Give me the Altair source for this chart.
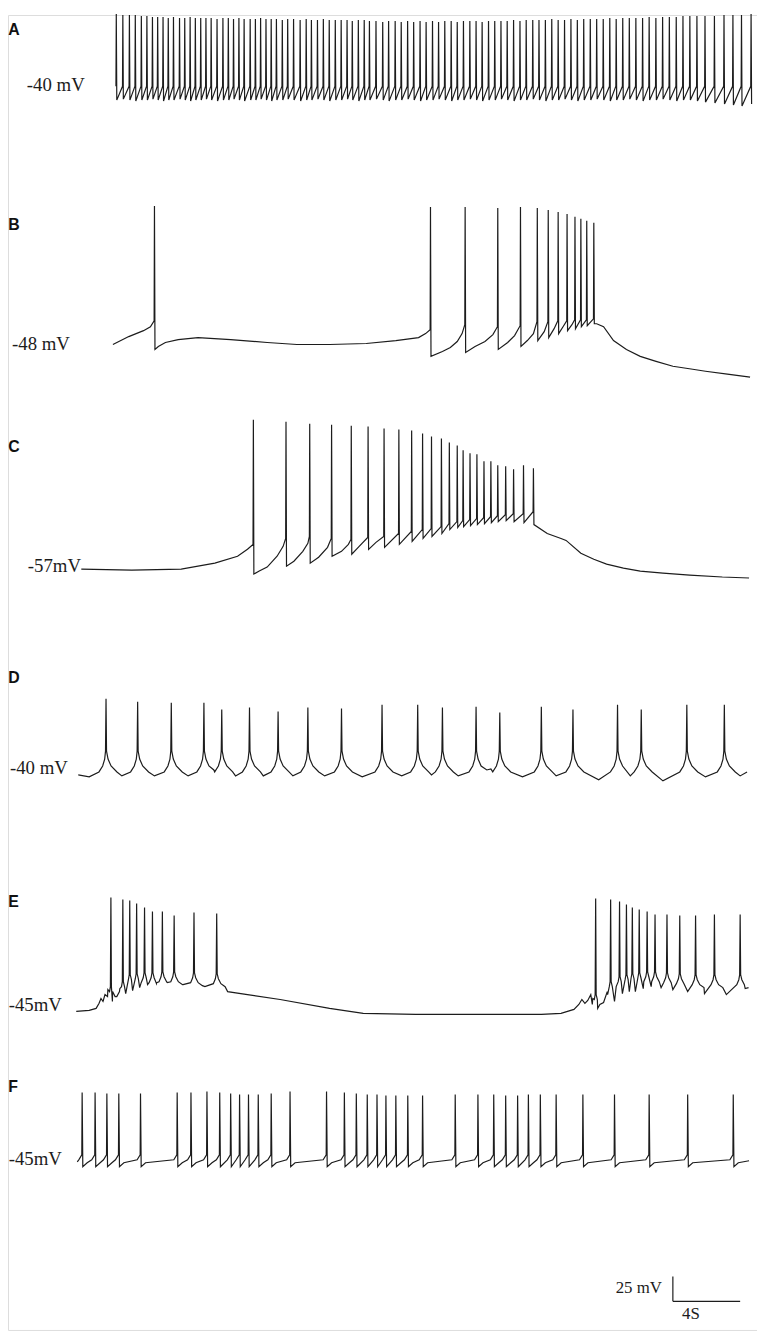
import altair as alt
import pandas as pd

# ---------------- data (time in s, voltage in mV) ----------------
# Panel A: tonic firing at -40 mV
A_spike_t = [2.32, 2.71, 3.10, 3.45, 3.81, 4.14, 4.47, 4.78, 5.10, 5.41, 5.72, 6.08, 6.39, 6.71, 7.02,
             7.34, 7.65, 7.96, 8.31, 8.66, 8.98, 9.29, 9.61, 9.92, 10.28, 10.59, 10.90, 11.22, 11.53,
             11.84, 12.19, 12.51, 12.86, 13.25, 13.61, 13.92, 14.28, 14.63, 14.98, 15.34, 15.69, 16.04,
             16.35, 16.71, 17.06, 17.37, 17.76, 18.16, 18.51, 18.90, 19.26, 19.64, 20.00, 20.38, 20.74,
             21.12, 21.48, 21.85, 22.23, 22.59, 22.96, 23.34, 23.71, 24.07, 24.45, 24.82, 25.19, 25.56,
             25.94, 26.32, 26.69, 27.08, 27.45, 27.83, 28.21, 28.59, 28.97, 29.35, 29.73, 30.11, 30.50,
             30.88, 31.27, 31.66, 32.04, 32.43, 32.82, 33.21, 33.61, 34.00, 34.40, 34.80, 35.20, 35.61,
             36.01, 36.42, 36.84, 37.32, 37.88, 38.45, 38.98, 39.49, 40.06]
A_peak = [34, 33, 33, 33, 32,
          32, 31, 31, 31, 30, 31, 30, 30, 31, 30, 30, 30, 30, 29, 30,
          30, 29, 30, 29, 29, 29, 30, 29, 29, 29, 28, 29, 29, 28, 29, 28, 28, 29, 28, 28,
          28, 28, 27, 28, 28, 27, 27, 26, 27, 27,
          26, 27, 26, 27, 26, 27, 26, 27, 27, 26, 27, 27, 27, 26, 27,
          27, 27, 27, 28, 27, 28, 28, 28, 28, 29, 28, 28, 29, 28, 29,
          29, 29, 29, 30, 29, 30, 30, 30, 30, 31, 30, 31, 31, 31, 32, 32, 32,
          32, 32, 33, 33, 33, 34]
A_foot = -39
A_trough = [-53, -52, -53, -54, -53, -53, -52, -53, -54, -53, -53, -52, -53, -54, -53, -53, -52,
            -53, -54, -53, -53, -52, -53, -54, -53, -53, -52, -53, -54, -53, -53, -52, -53, -54,
            -53, -53, -52, -53, -54, -53, -53, -52, -53, -54, -53, -53, -52, -53, -54, -53, -53,
            -52, -53, -54, -53, -53, -52, -53, -54, -53, -53, -52, -53, -54, -53, -53, -52, -53,
            -54, -53, -53, -52, -53, -54, -53, -53, -52, -53, -54, -53, -53, -52, -53, -54, -53,
            -53, -52, -53, -54, -53, -53, -52, -53, -54, -53, -53, -54,
            -55, -56, -57, -58, -59, -57]

# Panel B: -48 mV
B_spike_t = [4.59, 21.0, 23.06, 25.0, 26.35, 27.35, 28.0, 28.59, 29.12, 29.59, 29.94, 30.29, 30.71]
B_peak = [91, 90, 90, 89, 90, 89, 87, 85, 83, 80, 78, 76, 74]
B_foot = [-25, -34, -29, -31, -30, -26, -26, -25, -25, -24, -24, -24, -23]
B_trough = [-54, -61, -57, -54, -51, -45, -42, -38, -35, -33, -31, -30, -28]
B_base_t = [2.12, 3.06, 3.94, 4.35, 4.82, 5.24, 6.0, 7.18, 9.12, 11.29, 13.06, 15.0, 17.18, 18.94,
            20.29, 20.71, 21.71, 22.18, 22.59, 22.88, 23.65, 24.24, 24.71, 25.59, 26.0, 26.76, 27.12,
            27.76, 28.35, 28.88, 29.41, 30.88, 31.29, 31.88, 32.65, 33.47, 34.41, 35.41, 36.59, 37.35,
            38.65, 40.0]
B_base_v = [-49, -41, -35, -31, -51, -47, -44, -42, -44, -47, -49, -49, -48, -45, -42, -38, -56, -52,
            -46, -38, -51, -46, -39, -47, -40, -45, -38, -36, -33, -31, -29, -28, -31, -45, -54, -61,
            -66, -71, -74, -76, -79, -82]

# Panel C: -57 mV
C_spike_t = [10.47, 12.41, 13.82, 15.12, 16.29, 17.29, 18.24, 19.12, 19.88, 20.53, 21.06, 21.65,
             22.12, 22.59, 22.94, 23.35, 23.76, 24.18, 24.59, 25.0, 25.47, 25.94, 26.53, 27.12]
C_peak = [94, 92, 90, 89, 88, 87, 85, 84, 83, 80, 77, 75, 71, 68, 63, 60, 59, 52, 52, 48, 47, 44, 48, 45]
C_foot = [-32, -26, -24, -26, -27, -25, -24, -21, -19, -17, -16, -14, -11, -9, -8, -7, -6, -5, -4,
          -3, -2, -1, -1, 1]
C_trough = [-62, -54, -51, -44, -42, -37, -35, -32, -29, -26, -24, -21, -17, -15, -14, -13, -12, -11,
            -10, -9, -8, -9, -10, -12]
C_base_t = [0.24, 3.24, 6.18, 8.18, 9.53, 10.12, 10.82, 11.29, 11.88, 12.24, 12.88, 13.41, 13.71,
            14.35, 14.88, 15.71, 16.12, 16.76, 17.76, 27.94, 28.76, 29.06, 29.94, 30.71, 31.47, 32.47,
            33.47, 34.82, 36.41, 38.35, 39.94]
C_base_v = [-57, -58, -57, -51, -44, -37, -59, -55, -44, -34, -49, -39, -31, -45, -35, -39, -32, -34,
            -30, -21, -26, -28, -41, -47, -52, -56, -59, -61, -63, -65, -66]

# Panel D: -40 mV
D_spike_t = [1.71, 3.59, 5.59, 7.53, 8.59, 10.24, 11.94, 13.71, 15.71, 18.12, 20.24, 21.71, 23.71,
             25.12, 27.59, 29.47, 32.12, 33.53, 36.24, 38.47]
D_peak = [37, 34, 33, 33, 26, 28, 24, 28, 27, 31, 31, 28, 29, 23, 29, 26, 31, 26, 31, 31]
D_foot = -16
D_base_t = [0.06, 0.71, 2.65, 4.59, 6.59, 8.12, 9.41, 11.06, 12.82, 14.71, 16.94, 19.29, 21.06, 22.65,
            24.35, 24.59, 26.47, 28.47, 31.0, 32.88, 34.82, 37.35, 39.41, 39.82]
D_base_v = [-40, -42, -41, -41, -41, -35, -41, -41, -41, -41, -42, -41, -40, -41, -35, -34, -42, -41,
            -45, -41, -46, -42, -41, -37]

# Panel E: -45 mV
E_spike_t = [2.0, 2.71, 3.12, 3.53, 4.0, 4.47, 5.06, 5.76, 6.94, 8.29, 30.82, 31.71, 32.24, 32.65,
             33.0, 33.41, 33.88, 34.35, 35.06, 35.82, 36.76, 37.88, 39.41]
E_peak = [70, 68, 67, 64, 60, 56, 56, 52, 55, 54, 69, 68, 66, 63, 60, 58, 56, 53, 53, 52, 52, 53, 53]
E_foot = [-20, -15, -8, -7, -6, -6, -5, -5, -6, -7, -28, -15, -10, -8, -7, -6, -5, -5, -6, -7, -8, -8, -8]
E_base_t = [-0.06, 0.71, 1.12, 1.29, 1.41, 1.53, 1.65, 1.82, 2.09, 2.35, 2.53, 2.88, 3.29, 3.71, 4.18,
            4.71, 5.35, 6.29, 7.59, 8.94, 10.12, 12.06, 15.0, 17.0, 20.12, 24.82, 27.59, 28.76, 29.53,
            29.82, 30.0, 30.18, 30.35, 30.53, 30.65, 30.94, 31.29, 31.53, 31.94, 32.41, 32.82, 33.18,
            33.65, 34.12, 34.71, 35.41, 36.29, 37.29, 38.59, 39.71]
E_base_v = [-45, -44, -42, -37, -32, -35, -28, -23, -35, -30, -22, -27, -24, -21, -18, -17, -16, -18,
            -20, -25, -28, -33, -42, -47, -48, -48, -48, -47, -43, -38, -33, -37, -34, -28, -32, -42,
            -36, -28, -35, -27, -25, -25, -22, -20, -21, -23, -25, -27, -28, -22]

# Panel F: -45 mV
F_spike_t = [0.29, 1.06, 1.76, 2.47, 3.76, 5.94, 6.76, 7.71, 8.47, 9.12, 9.65, 10.18, 10.76, 11.53,
             12.65, 14.82, 15.88, 16.59, 17.24, 17.82, 18.35, 18.94, 19.65, 20.53, 22.47, 23.82, 24.76,
             25.47, 26.18, 26.82, 27.53, 28.47, 30.06, 31.94, 34.0, 36.29, 39.0]
F_peak = [25, 25, 24, 24, 24, 25, 25, 26, 25, 24, 23, 23, 23, 24, 26, 26, 25, 24, 23, 23, 22, 22, 22,
          22, 23, 23, 23, 22, 22, 23, 23, 23, 23, 23, 23, 23, 23]
F_foot = -38
F_base_t = [0.0, 39.94]
F_base_v = [-45, -44]

# spike waveform shapes (s, mV relative to the spike foot)
SHARP_PRE = [(-0.02, 0)]
D_PRE = [(-0.03, 0), (-0.08, -8), (-0.2, -15), (-0.42, -21)]
D_POST = [(0.03, 0), (0.12, -8), (0.3, -15), (0.65, -21)]
E_PRE = [(-0.03, 0), (-0.08, -5), (-0.2, -10)]
E_POST = [(0.03, 0), (0.1, -5), (0.25, -10), (0.5, -13)]
F_PRE = [(-0.02, 0), (-0.2, -5)]
F_POST = [(0.04, -12), (0.3, -8)]

PANELS = ["A", "B", "C", "D", "E", "F"]
REST_LABEL = ["-40 mV", "-48 mV", "-57mV", "-40 mV", "-45mV", "-45mV"]
SCALE_MV = 25
SCALE_S = 4

# ---------------- layout (vertical placement of each trace, in mV units) ----------------
OFFSET = {"A": 41, "B": 292, "C": 511, "D": 736, "E": 970, "F": 1122, "S": 1308}


def build(panel, spike_t, peak, foot, trough=None, pre=(), post=(), base_t=(), base_v=()):
    pts = list(zip(base_t, base_v))
    n = len(spike_t)
    for i in range(n):
        t = spike_t[i]
        f = foot[i] if isinstance(foot, list) else foot
        gl = t - spike_t[i - 1] if i > 0 else 1e9
        gr = spike_t[i + 1] - t if i < n - 1 else 1e9
        for dt, dv in pre:
            if -dt < 0.45 * gl:
                pts.append((t + dt, f + dv))
        pts.append((t, peak[i]))
        if trough is not None:
            pts.append((t + 0.03, trough[i]))
        for dt, dv in post:
            if dt < 0.45 * gr:
                pts.append((t + dt, f + dv))
    pts.sort()
    df = pd.DataFrame(pts, columns=["t", "v"])
    df["panel"] = panel
    df["seq"] = range(len(df))
    df["ypos"] = OFFSET[panel] - df["v"]
    return df


traces = pd.concat([
    build("A", A_spike_t, A_peak, A_foot, A_trough, SHARP_PRE),
    build("B", B_spike_t, B_peak, B_foot, B_trough, SHARP_PRE, (), B_base_t, B_base_v),
    build("C", C_spike_t, C_peak, C_foot, C_trough, SHARP_PRE, (), C_base_t, C_base_v),
    build("D", D_spike_t, D_peak, D_foot, None, D_PRE, D_POST, D_base_t, D_base_v),
    build("E", E_spike_t, E_peak, E_foot, None, E_PRE, E_POST, E_base_t, E_base_v),
    build("F", F_spike_t, F_peak, F_foot, None, F_PRE, F_POST, F_base_t, F_base_v),
], ignore_index=True)

# label anchor points (s, mV in each panel's frame)
letter_t = [-4.1] * 6
letter_v = [13, 67, 61, 53, 60, 26]
rest_t = [-3.0, -3.88, -2.94, -4.0, -4.08, -4.08]
rest_v = [-44, -55, -60, -39, -45, -48]

letters = pd.DataFrame({"t": letter_t, "text": PANELS,
                        "ypos": [OFFSET[p] - v for p, v in zip(PANELS, letter_v)]})
rests = pd.DataFrame({"t": rest_t, "text": REST_LABEL,
                      "ypos": [OFFSET[p] - v for p, v in zip(PANELS, rest_v)]})

bar_t0 = 35.41
bars = pd.DataFrame({
    "t": [bar_t0, bar_t0],
    "t2": [bar_t0, bar_t0 + SCALE_S],
    "ypos": [OFFSET["S"] - 0, OFFSET["S"] - 0],
    "ypos2": [OFFSET["S"] - SCALE_MV, OFFSET["S"] - 0],
})
bar_text = pd.DataFrame({
    "t": [bar_t0 - 0.65, bar_t0 + 0.55],
    "ypos": [OFFSET["S"] - 8, OFFSET["S"] + 18],
    "text": [f"{SCALE_MV} mV", f"{SCALE_S}S"],
    "align": ["right", "left"],
})

X = alt.X("t:Q", scale=alt.Scale(domain=[-70 / 17, 687 / 17], nice=False, zero=False), axis=None)
Y = alt.Y("ypos:Q", scale=alt.Scale(domain=[1337, 8], nice=False, zero=False), axis=None)

INK = "#1c1c1c"

lines = alt.Chart(traces).mark_line(color=INK, strokeWidth=1.2, strokeJoin="miter").encode(
    x=X, y=Y, detail="panel:N", order="seq:Q")

letter_layer = alt.Chart(letters).mark_text(
    font="Liberation Sans", fontWeight="bold", fontSize=16, align="left", baseline="alphabetic",
    color="#111").encode(x=X, y=Y, text="text:N")

rest_layer = alt.Chart(rests).mark_text(
    font="Liberation Serif", fontSize=19, align="left", baseline="alphabetic",
    color=INK).encode(x=X, y=Y, text="text:N")

bar_layer = alt.Chart(bars).mark_rule(color=INK, strokeWidth=1.2).encode(
    x=X, x2="t2:Q", y=Y, y2="ypos2:Q")

bar_text_r = alt.Chart(bar_text[bar_text["align"] == "right"]).mark_text(
    font="Liberation Serif", fontSize=17, align="right", baseline="alphabetic", color=INK
).encode(x=X, y=Y, text="text:N")
bar_text_l = alt.Chart(bar_text[bar_text["align"] == "left"]).mark_text(
    font="Liberation Serif", fontSize=17, align="left", baseline="alphabetic", color=INK
).encode(x=X, y=Y, text="text:N")

chart = alt.layer(lines, letter_layer, rest_layer, bar_layer, bar_text_r, bar_text_l).properties(
    width=757, height=1329, padding=0, autosize=alt.AutoSizeParams(type="none")
).configure_view(strokeWidth=0, stroke="transparent").configure(background="white")

chart.save("out.html", embed_options={"renderer": "svg", "actions": False})
